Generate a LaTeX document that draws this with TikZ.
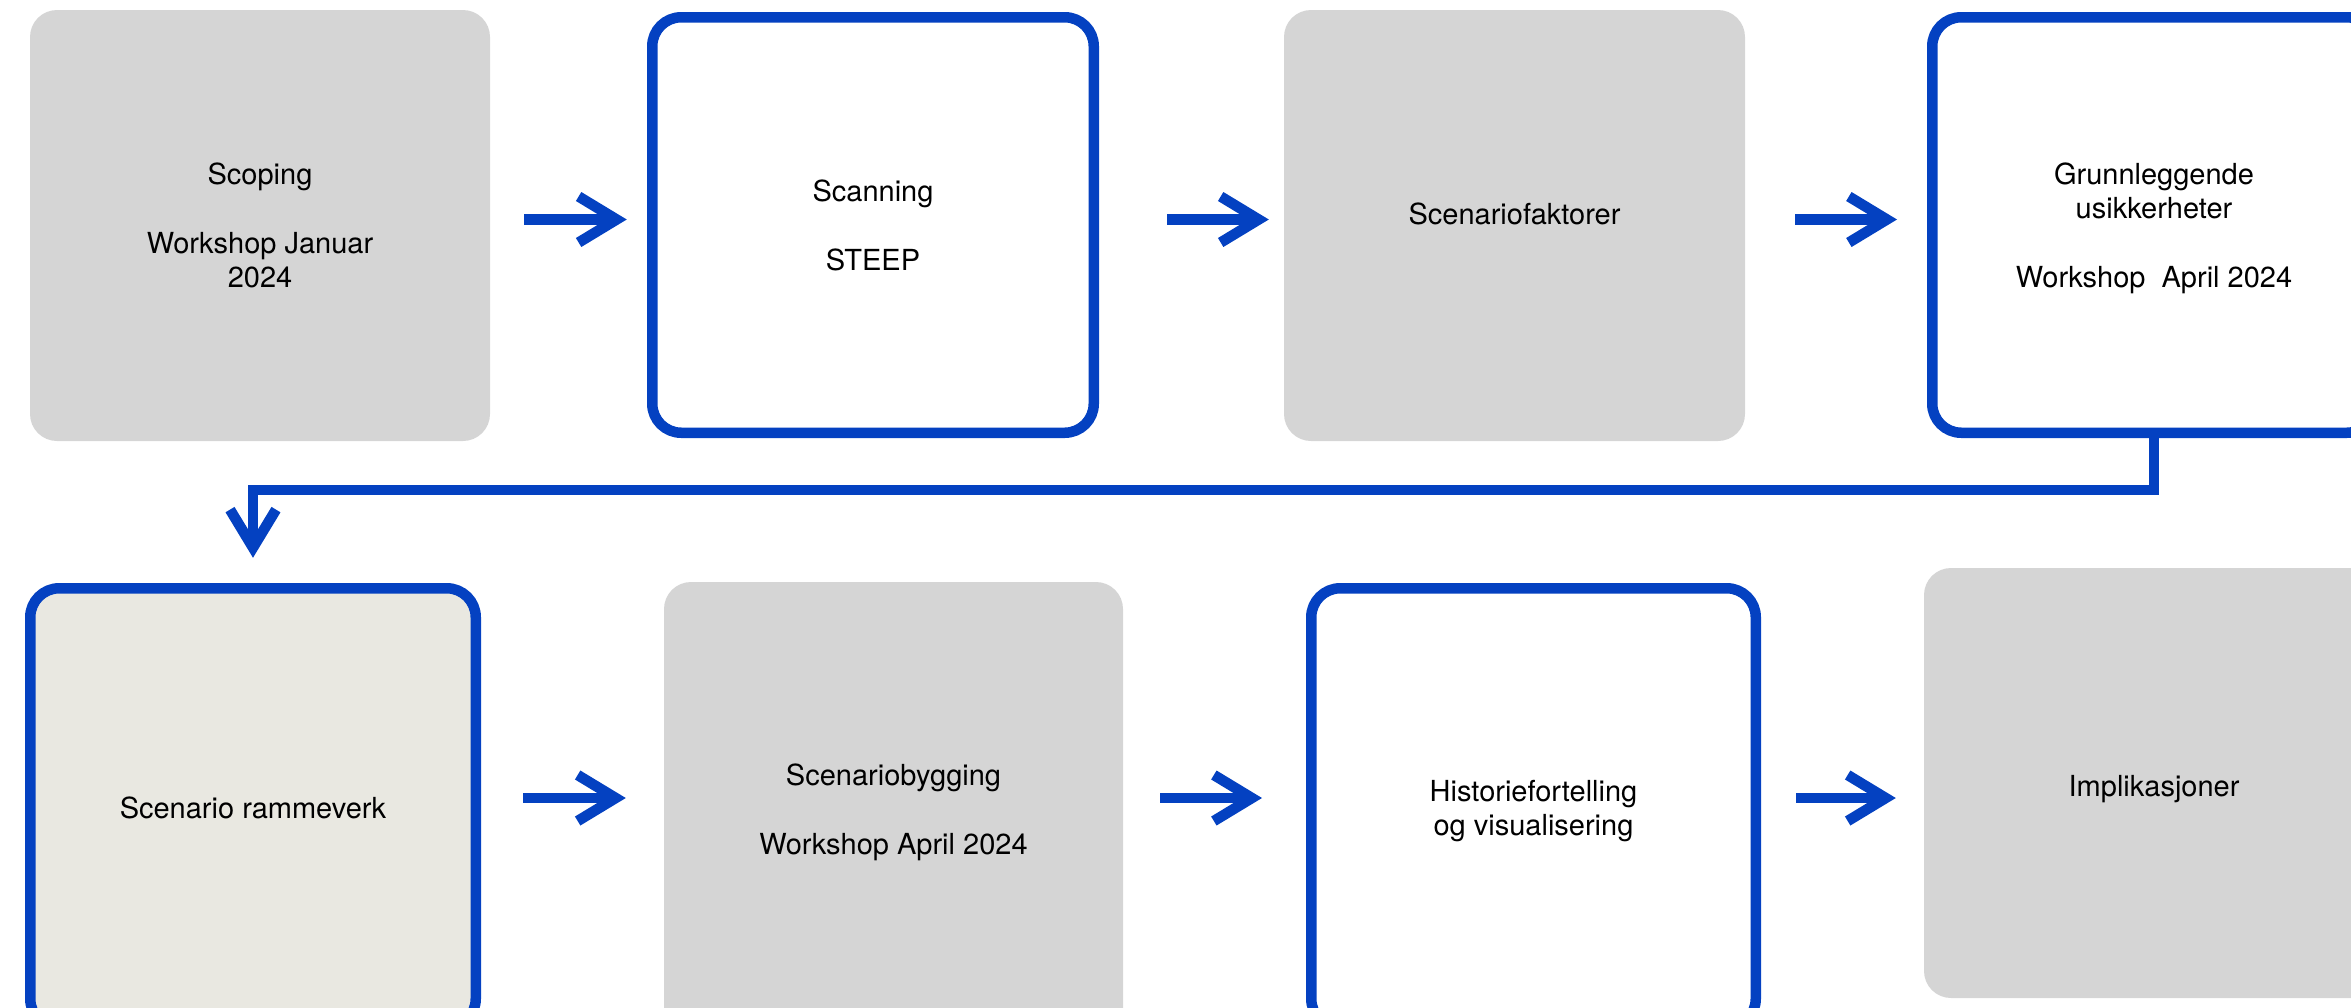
\documentclass[tikz,border=0pt]{standalone}
\usepackage{fontspec}
\setmainfont{TeX Gyre Heros}
\usetikzlibrary{arrows.meta}
\definecolor{flowblue}{HTML}{0441C1}
\definecolor{boxgray}{HTML}{D5D5D5}
\definecolor{boxbeige}{HTML}{E9E8E1}
\tikzset{
  base/.style={rectangle, inner sep=0pt, align=center, text=black,
    font=\fontsize{29}{34.5}\selectfont},
  graybox/.style={base, fill=boxgray, rounded corners=27pt},
  bluebox/.style={base, draw=flowblue, line width=10.5pt, fill=white, rounded corners=29pt},
  flowarrow/.style={draw=flowblue, line width=10.5pt,
    -{Straight Barb[length=38pt,width=46pt]}},
}
\begin{document}
\begin{tikzpicture}[x=1pt,y=1pt]
\useasboundingbox (0,0) rectangle (2351,-1007);
% row 1
\node[graybox, minimum width=460pt, minimum height=431pt] (b1) at (260,-225.5)
  {Scoping\\[34.5pt]Workshop Januar\\2024};
\node[bluebox, minimum width=441.5pt, minimum height=415.5pt] (b2) at (873,-225)
  {Scanning\\[34.5pt]STEEP};
\node[graybox, minimum width=461pt, minimum height=431pt, text depth=24pt] (b3) at (1514.5,-225.5)
  {Scenariofaktorer};
\node[bluebox, minimum width=443.5pt, minimum height=415.5pt, text depth=0pt] (b4) at (2154,-225)
  {Grunnleggende\\usikkerheter\\[34.5pt]Workshop\ \ April 2024};
% row 2
\node[bluebox, fill=boxbeige, minimum width=445.5pt, minimum height=439.5pt] (b5) at (253,-808)
  {Scenario rammeverk};
\node[graybox, minimum width=459pt, minimum height=454pt, text depth=0pt] (b6) at (893.5,-809)
  {Scenariobygging\\[34.5pt]Workshop April 2024};
\node[bluebox, minimum width=444.5pt, minimum height=439.5pt, text depth=0pt] (b7) at (1533.5,-808)
  {Historiefortelling\\og visualisering};
\node[graybox, minimum width=460pt, minimum height=430pt, text height=27.5pt, text depth=0pt] (b8) at (2154,-783)
  {Implikasjoner};
% arrows row 1
\draw[flowarrow] ([xshift=34pt,yshift=6pt]b1.east) -- ([xshift=-20.25pt,yshift=5.5pt]b2.west);
\draw[flowarrow] ([xshift=68pt,yshift=5.5pt]b2.east) -- ([xshift=-15pt,yshift=6pt]b3.west);
\draw[flowarrow] ([xshift=50pt,yshift=6pt]b3.east) -- ([xshift=-30pt,yshift=5.5pt]b4.west);
% connector row 1 -> row 2
\draw[flowarrow] (b4.south) -- ++(0,-52) -| ([yshift=25.25pt]b5.north);
% arrows row 2
\draw[flowarrow] ([xshift=42pt,yshift=10pt]b5.east) -- ([xshift=-38pt,yshift=11pt]b6.west);
\draw[flowarrow] ([xshift=37pt,yshift=11pt]b6.east) -- ([xshift=-44pt,yshift=10pt]b7.west);
\draw[flowarrow] ([xshift=35.25pt,yshift=10pt]b7.east) -- ([xshift=-28pt,yshift=-15pt]b8.west);
\end{tikzpicture}
\end{document}
